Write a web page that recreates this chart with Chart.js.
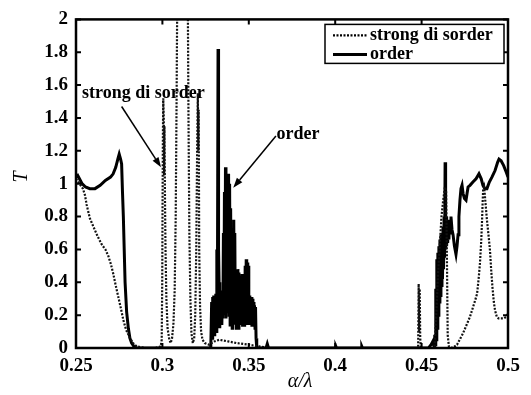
<!DOCTYPE html>
<html>
<head>
<meta charset="utf-8">
<script src="https://cdn.jsdelivr.net/npm/chart.js@4.4.1/dist/chart.umd.min.js"></script>
<style>
html,body{margin:0;padding:0;background:#fff;}
canvas{display:block;}
</style>
</head>
<body>
<canvas id="c" width="531" height="395"></canvas>
<script>
// ---- tick labels ----
const xTickVals = [0.25, 0.3, 0.35, 0.4, 0.45, 0.5];
const xTickLabels = ['0.25', '0.3', '0.35', '0.4', '0.45', '0.5'];
const yTickVals = [0, 0.2, 0.4, 0.6, 0.8, 1, 1.2, 1.4, 1.6, 1.8, 2];
const yTickLabels = ['0', '0.2', '0.4', '0.6', '0.8', '1', '1.2', '1.4', '1.6', '1.8', '2'];

// ---- series: strong disorder (dotted) ----
const sdX = [0.2500,0.2520,0.2540,0.2552,0.2562,0.2580,0.2600,0.2625,0.2649,0.2670,0.2687,0.2702,0.2716,0.2730,0.2745,0.2760,0.2774,0.2790,0.2813,0.2830,0.2851,0.2900,0.2960,0.2990,
  0.2996,0.2999,0.3001,0.3003,0.3005,0.3008,0.3010,0.3012,0.3015,0.3018,0.3023,0.3030,0.3040,0.3048,0.3056,0.3064,0.3071,0.3077,0.3082,0.3087,0.3100,0.3117,0.3135,0.3146,0.3151,0.3156,0.3162,0.3168,0.3176,0.3184,0.3190,0.3196,0.3201,0.3205,0.3208,0.3210,0.3213,0.3218,0.3224,0.3232,0.3245,0.3270,0.3300,0.3330,0.3380,0.3430,0.3500,0.3560,0.3620,0.4000,0.4470,
  0.4480,0.4483,0.4486,0.4489,0.4492,0.4496,0.4575,0.4585,0.4595,0.4605,0.4615,0.4625,0.4635,0.4642,0.4647,0.4651,0.4658,0.4680,0.4705,0.4740,0.4780,0.4810,0.4821,0.4830,0.4838,0.4845,0.4850,0.4853,0.4856,0.4862,0.4870,0.4878,0.4888,0.4896,0.4903,0.4910,0.4918,0.4925,0.4935,0.4945,0.4960,0.4975,0.4990,0.5000];
const sdY = [1.03,1.00,0.97,0.93,0.87,0.79,0.74,0.68,0.63,0.60,0.56,0.51,0.45,0.38,0.31,0.24,0.17,0.11,0.06,0.03,0.01,0.00,0.00,0.01,
  0.05,0.40,0.90,1.30,1.52,1.40,1.05,1.35,0.90,0.60,0.30,0.12,0.05,0.03,0.06,0.15,0.35,0.80,1.50,2.30,3.50,4.00,3.50,2.30,1.40,0.70,0.30,0.09,0.03,0.06,0.20,0.60,1.20,1.55,1.20,1.45,0.60,0.25,0.10,0.05,0.03,0.02,0.04,0.05,0.04,0.03,0.02,0.01,0.00,0.00,0.00,
  0.00,0.39,0.10,0.36,0.06,0.00,0.00,0.20,0.45,0.62,0.80,0.90,0.98,0.95,0.50,0.08,0.01,0.00,0.02,0.09,0.19,0.29,0.33,0.42,0.52,0.65,0.78,0.88,0.96,0.98,0.88,0.78,0.68,0.59,0.47,0.37,0.28,0.23,0.19,0.18,0.18,0.18,0.19,0.21];

// ---- series: order (solid) ----
const ordX = [0.2500,0.2510,0.2520,0.2535,0.2555,0.2580,0.2610,0.2640,0.2670,0.2700,0.2715,0.2730,0.2742,0.2750,0.2758,0.2764,0.2769,0.2774,0.2779,0.2784,0.2793,0.2803,0.2812,0.2822,0.2835,0.2853,0.3000,0.3280,
  0.3285,0.3288,0.3291,0.3294,0.3297,0.3300,0.3303,0.3306,0.3309,0.3312,0.3315,0.3318,0.3322,0.3325,0.3328,0.3332,0.3335,0.3338,0.3341,0.3344,0.3347,0.3350,0.3353,0.3356,0.3359,0.3362,0.3365,0.3368,0.3371,0.3374,0.3377,0.3380,0.3383,0.3386,0.3389,0.3392,0.3395,0.3398,0.3401,0.3404,0.3407,0.3410,0.3413,0.3416,0.3419,0.3422,0.3425,0.3428,0.3431,0.3434,0.3437,0.3440,0.3443,0.3446,0.3449,0.3452,0.3455,0.3458,0.3461,0.3464,0.3467,0.3470,0.3473,0.3476,0.3479,0.3482,0.3485,0.3488,0.3491,0.3494,0.3497,0.3500,0.3503,0.3506,0.3509,0.3512,0.3515,0.3518,0.3521,0.3524,0.3527,0.3530,0.3533,0.3536,0.3539,0.3542,0.3546,
  0.3600,0.3607,0.3614,0.4000,0.4004,0.4008,0.4150,0.4154,0.4158,0.4540,0.4555,0.4565,0.4572,
  0.4576,0.4579,0.4582,0.4585,0.4588,0.4591,0.4594,0.4597,0.4600,0.4603,0.4606,0.4609,0.4612,0.4615,0.4618,0.4621,0.4624,0.4627,0.4630,0.4633,0.4636,0.4639,0.4642,0.4645,0.4648,0.4651,0.4654,0.4658,0.4662,0.4666,0.4670,0.4676,0.4682,0.4690,0.4699,0.4705,0.4711,0.4716,0.4722,0.4728,0.4734,0.4740,0.4748,0.4757,0.4763,0.4769,0.4780,0.4797,0.4815,0.4832,0.4845,0.4855,0.4866,0.4878,0.4892,0.4907,0.4925,0.4940,0.4948,0.4960,0.4975,0.4990,0.5000];
const ordY = [1.04,1.05,1.03,1.00,0.98,0.97,0.97,0.99,1.02,1.04,1.06,1.10,1.15,1.18,1.15,1.12,0.95,0.80,0.60,0.40,0.22,0.12,0.06,0.03,0.01,0.00,0.00,0.00,
  0.28,0.06,0.31,0.10,0.32,0.08,0.30,0.12,0.33,0.10,0.60,0.15,1.82,0.60,0.40,0.12,0.35,0.16,0.33,0.14,0.32,0.18,0.70,0.20,0.95,0.22,1.10,0.18,1.02,0.22,1.04,0.25,1.06,0.20,1.00,0.14,0.85,0.15,0.55,0.12,0.70,0.16,0.78,0.18,0.70,0.15,0.45,0.12,0.36,0.14,0.48,0.12,0.46,0.15,0.44,0.14,0.40,0.16,0.45,0.13,0.42,0.15,0.40,0.13,0.50,0.14,0.54,0.15,0.52,0.14,0.50,0.15,0.32,0.14,0.30,0.15,0.31,0.13,0.30,0.14,0.28,0.13,0.26,0.12,0.25,0.06,0.00,
  0.00,0.025,0.00,0.00,0.01,0.00,0.00,0.01,0.00,0.00,0.02,0.04,0.01,
  0.08,0.02,0.36,0.05,0.54,0.12,0.58,0.20,0.62,0.28,0.66,0.32,0.69,0.38,0.70,0.42,0.74,0.48,0.80,0.55,1.13,0.60,0.80,0.62,0.76,0.64,0.74,0.66,0.78,0.70,0.80,0.72,0.69,0.62,0.57,0.62,0.69,0.80,0.90,0.97,0.99,0.94,0.91,0.90,0.94,0.98,0.99,1.01,1.03,1.06,1.03,0.99,0.97,0.97,1.01,1.04,1.08,1.13,1.15,1.14,1.11,1.07,1.04];

const seriesNames = ['strong di sorder', 'order'];

// annotation anchors (data coordinates)
const notes = [
  {text: 'strong di sorder', tx: 0.2535, ty: 1.55, ax: 0.2764, ay: 1.47, px: 0.2992, py: 1.10},
  {text: 'order', tx: 0.3661, ty: 1.30, ax: 0.3657, ay: 1.29, px: 0.3410, py: 0.975}
];

const FONT = '"Liberation Serif", "Times New Roman", serif';

function pts(xs, ys) { return xs.map((x, i) => ({x: x, y: ys[i]})); }

function arrow(ctx, x1, y1, x2, y2) {
  const ang = Math.atan2(y2 - y1, x2 - x1);
  const L = 10, W = 3.5;
  const bx = x2 - L * Math.cos(ang), by = y2 - L * Math.sin(ang);
  ctx.beginPath();
  ctx.moveTo(x1, y1); ctx.lineTo(bx, by); ctx.stroke();
  ctx.beginPath();
  ctx.moveTo(x2, y2);
  ctx.lineTo(bx + W * Math.sin(ang), by - W * Math.cos(ang));
  ctx.lineTo(bx - W * Math.sin(ang), by + W * Math.cos(ang));
  ctx.closePath(); ctx.fill();
}

const overlay = {
  id: 'overlay',
  afterDatasetsDraw(chart) {
    const ctx = chart.ctx, a = chart.chartArea, xs = chart.scales.x, ys = chart.scales.y;
    ctx.save();
    ctx.strokeStyle = '#000'; ctx.fillStyle = '#000';
    // ticks (inward, all four sides)
    ctx.lineWidth = 2;
    ctx.beginPath();
    xTickVals.forEach(v => {
      const p = xs.getPixelForValue(v);
      ctx.moveTo(p, a.bottom); ctx.lineTo(p, a.bottom - 5);
      ctx.moveTo(p, a.top); ctx.lineTo(p, a.top + 5);
    });
    yTickVals.forEach(v => {
      const p = ys.getPixelForValue(v);
      ctx.moveTo(a.left, p); ctx.lineTo(a.left + 5, p);
      ctx.moveTo(a.right, p); ctx.lineTo(a.right - 5, p);
    });
    ctx.stroke();
    // box
    ctx.lineWidth = 2.5;
    ctx.strokeRect(a.left, a.top, a.right - a.left, a.bottom - a.top);

    // annotations
    ctx.font = 'bold 18px ' + FONT;
    ctx.textBaseline = 'middle'; ctx.textAlign = 'left';
    ctx.lineWidth = 1.5;
    notes.forEach(n => {
      ctx.fillText(n.text, xs.getPixelForValue(n.tx), ys.getPixelForValue(n.ty));
      arrow(ctx, xs.getPixelForValue(n.ax), ys.getPixelForValue(n.ay), xs.getPixelForValue(n.px), ys.getPixelForValue(n.py));
    });

    // legend
    const lx = a.right - 183, ly = a.top + 5, lw = 179, lh = 39;
    ctx.fillStyle = '#fff';
    ctx.fillRect(lx, ly, lw, lh);
    ctx.strokeStyle = '#000'; ctx.lineWidth = 1.5;
    ctx.strokeRect(lx, ly, lw, lh);
    chart.data.datasets.forEach((ds, i) => {
      const yy = ly + 11 + i * 19;
      ctx.strokeStyle = '#000';
      ctx.lineWidth = ds.borderWidth;
      ctx.setLineDash(ds.borderDash || []);
      ctx.beginPath(); ctx.moveTo(lx + 8, yy); ctx.lineTo(lx + 42, yy); ctx.stroke();
      ctx.setLineDash([]);
      ctx.fillStyle = '#000';
      ctx.font = 'bold 18px ' + FONT;
      ctx.textBaseline = 'middle';
      ctx.fillText(ds.label, lx + 45, yy);
    });

    // axis titles
    ctx.fillStyle = '#000';
    ctx.font = 'italic 20px ' + FONT;
    ctx.textAlign = 'center'; ctx.textBaseline = 'middle';
    ctx.fillText('\u03b1/\u03bb', 300, 382);
    ctx.save();
    ctx.translate(22, 177); ctx.rotate(-Math.PI / 2);
    ctx.fillText('T', 0, 0);
    ctx.restore();
    ctx.restore();
  }
};

new Chart(document.getElementById('c'), {
  type: 'scatter',
  data: {
    datasets: [
      {label: seriesNames[0], data: pts(sdX, sdY), showLine: true, borderColor: '#111', borderWidth: 2.2, borderDash: [2, 1.5], pointRadius: 0, tension: 0},
      {label: seriesNames[1], data: pts(ordX, ordY), showLine: true, borderColor: '#000', borderWidth: 3, pointRadius: 0, tension: 0}
    ]
  },
  options: {
    responsive: false,
    animation: false,
    devicePixelRatio: 1,
    layout: {padding: {top: 13, right: 23, left: 0, bottom: 0}},
    plugins: {legend: {display: false}, tooltip: {enabled: false}},
    scales: {
      x: {
        type: 'linear', min: 0.25, max: 0.5,
        grid: {display: false, drawTicks: false}, border: {display: false},
        afterBuildTicks: s => { s.ticks = xTickVals.map(v => ({value: v})); },
        afterFit: s => { s.height = 47; },
        ticks: {color: '#000', padding: 7, font: {family: FONT, size: 19, weight: 'bold'},
          callback: (v) => { const i = xTickVals.findIndex(t => Math.abs(t - v) < 1e-9); return i >= 0 ? xTickLabels[i] : ''; }}
      },
      y: {
        type: 'linear', min: 0, max: 2,
        grid: {display: false, drawTicks: false}, border: {display: false},
        afterBuildTicks: s => { s.ticks = yTickVals.map(v => ({value: v})); },
        afterFit: s => { s.width = 76; },
        ticks: {color: '#000', padding: 8, font: {family: FONT, size: 19, weight: 'bold'},
          callback: (v) => { const i = yTickVals.findIndex(t => Math.abs(t - v) < 1e-9); return i >= 0 ? yTickLabels[i] : ''; }}
      }
    }
  },
  plugins: [overlay]
});
</script>
</body>
</html>
